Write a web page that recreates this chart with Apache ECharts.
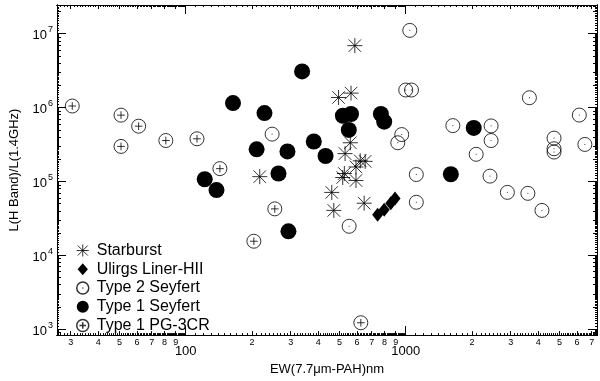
<!DOCTYPE html>
<html>
<head>
<meta charset="utf-8">
<script src="https://cdn.jsdelivr.net/npm/echarts@6/dist/echarts.min.js"></script>
<style>
  html, body { margin: 0; padding: 0; background: #fff; }
  #chart { width: 600px; height: 381px; }
</style>
</head>
<body>
<div id="chart"></div>
<script>
// EW(7.7um-PAH) values (nm) and L(H)/L(1.4GHz) ratios
const starX = [587, 495, 564, 560, 530, 621, 654, 594, 526, 517, 594, 461, 471, 647, 217];
const starY = [6.9e6, 1.37e6, 1.57e6, 3.34e5, 2.38e5, 1.9e5, 1.87e5, 1.57e5, 1.28e5, 1.13e5, 1.03e5, 7.1e4, 4.05e4, 5.07e4, 1.16e5];

const ulirgX = [745, 798, 855, 894];
const ulirgY = [3.53e4, 4.12e4, 5.07e4, 5.86e4];

const sy2X = [247, 1043, 1000, 1062, 3648, 6150, 1637, 2443, 2443, 959, 920, 4720, 4720, 4720, 6518, 2090, 1117, 2415, 2897, 3590, 4160, 1117, 553];
const sy2Y = [4.37e5, 1.11e7, 1.73e6, 1.73e6, 1.36e6, 7.92e5, 5.7e5, 5.65e5, 3.58e5, 4.31e5, 3.34e5, 3.86e5, 2.77e5, 2.5e5, 3.17e5, 2.33e5, 1.24e5, 1.18e5, 7.11e4, 6.9e4, 4.05e4, 5.22e4, 2.47e4];

const sy1X = [164, 228, 210, 290, 264, 122, 138, 338, 293, 518, 564, 551, 771, 798, 382, 432, 2037, 1603];
const sy1Y = [1.15e6, 8.43e5, 2.72e5, 2.55e5, 1.28e5, 1.07e5, 7.64e4, 3.09e6, 2.11e4, 7.76e5, 8.18e5, 4.99e5, 8.18e5, 6.44e5, 3.47e5, 2.21e5, 5.3e5, 1.25e5];

const pgX = [30.5, 50.8, 50.8, 61.1, 81.2, 112.5, 143, 254, 204, 625];
const pgY = [1.05e6, 7.9e5, 2.98e5, 5.6e5, 3.58e5, 3.78e5, 1.49e5, 4.25e4, 1.55e4, 1.22e3];

// axis ticks
const xDecades = [100, 1000];
const xDigits = [30, 40, 50, 60, 70, 80, 90, 200, 300, 400, 500, 600, 700, 800, 900, 2000, 3000, 4000, 5000, 6000, 7000];
const yDecades = [1e3, 1e4, 1e5, 1e6, 1e7];

const X_MIN = 26, X_MAX = 7400;
const Y_MIN = 830, Y_MAX = 2.45e7;

const lg = Math.log10;

function minorTicks(lo, hi) {
  const out = [];
  for (let d = Math.pow(10, Math.floor(lg(lo))); d < hi; d *= 10) {
    for (let k = 10; k < 100; k++) {
      const v = d * k / 10;
      if (v >= lo && v <= hi) out.push(lg(v));
    }
  }
  return out;
}
function midTicks(lo, hi) {
  const out = [];
  for (let d = Math.pow(10, Math.floor(lg(lo))); d < hi; d *= 10) {
    for (let k = 2; k < 10; k++) {
      const v = d * k;
      if (v >= lo && v <= hi) out.push(lg(v));
    }
  }
  return out;
}

const starPath = 'path://M0,0L20,20M0,20L20,0M10,-2L10,22M-2,10L22,10';
const diamondPath = 'path://M6,0L12,7L6,14L0,7Z';
const ringDotPath = 'path://M0,10A10,10 0 1,1 20,10A10,10 0 1,1 0,10ZM10,9.3L10,10.7';
const ringPlusPath = 'path://M0,10A10,10 0 1,1 20,10A10,10 0 1,1 0,10ZM10,4.5L10,15.5M4.5,10L15.5,10';

const toPts = (xs, ys) => xs.map((x, i) => [lg(x), lg(ys[i])]);

const font = 'Liberation Sans';
const lineStyle = { color: '#000', width: 1 };

function xAxisSet(position, labels) {
  const base = {
    type: 'value', min: lg(X_MIN), max: lg(X_MAX), position: position,
    splitLine: { show: false },
    axisLine: { show: true, onZero: false, lineStyle: lineStyle }
  };
  return [
    Object.assign({}, base, {
      axisTick: { show: true, inside: true, length: 9, customValues: xDecades.map(lg), lineStyle: lineStyle },
      axisLabel: labels ? {
        show: true, customValues: xDecades.map(lg), margin: 10, fontSize: 13, color: '#000', fontFamily: font,
        formatter: v => String(Math.round(Math.pow(10, v)))
      } : { show: false },
      name: labels ? 'EW(7.7\u03bcm-PAH)nm' : '',
      nameLocation: 'middle', nameGap: 25,
      nameTextStyle: { fontSize: 13, color: '#000', fontFamily: font }
    }),
    Object.assign({}, base, {
      axisTick: { show: true, inside: true, length: 4, customValues: xDigits.map(lg), lineStyle: lineStyle },
      axisLabel: labels ? {
        show: true, customValues: xDigits.map(lg), margin: 3, fontSize: 9, color: '#000', fontFamily: font,
        formatter: v => String(Math.round(Math.pow(10, v))).charAt(0)
      } : { show: false }
    }),
    Object.assign({}, base, {
      axisTick: { show: true, inside: true, length: 2, customValues: minorTicks(X_MIN, X_MAX), lineStyle: lineStyle },
      axisLabel: { show: false }
    })
  ];
}

function yAxisSet(position, labels) {
  const base = {
    type: 'value', min: lg(Y_MIN), max: lg(Y_MAX), position: position,
    splitLine: { show: false },
    axisLine: { show: true, onZero: false, lineStyle: lineStyle }
  };
  return [
    Object.assign({}, base, {
      axisTick: { show: true, inside: true, length: 9, customValues: yDecades.map(lg), lineStyle: lineStyle },
      axisLabel: labels ? {
        show: true, customValues: yDecades.map(lg), margin: 4, color: '#000', fontFamily: font,
        formatter: v => '{b|10}{s|' + Math.round(v) + '}',
        rich: {
          b: { fontSize: 13, fontFamily: font, color: '#000', verticalAlign: 'bottom' },
          s: { fontSize: 9, fontFamily: font, color: '#000', verticalAlign: 'bottom', padding: [0, 0, 8, 1] }
        }
      } : { show: false },
      name: labels ? 'L(H Band)/L(1.4GHz)' : '',
      nameLocation: 'middle', nameGap: 36,
      nameTextStyle: { fontSize: 13, color: '#000', fontFamily: font }
    }),
    Object.assign({}, base, {
      axisTick: { show: true, inside: true, length: 4, customValues: midTicks(Y_MIN, Y_MAX), lineStyle: lineStyle },
      axisLabel: { show: false }
    }),
    Object.assign({}, base, {
      axisTick: { show: true, inside: true, length: 2, customValues: minorTicks(Y_MIN, Y_MAX), lineStyle: lineStyle },
      axisLabel: { show: false }
    })
  ];
}

const openStyle = { color: 'rgba(0,0,0,0)', borderColor: '#000', borderWidth: 1 };

const chart = echarts.init(document.getElementById('chart'), null, { renderer: 'canvas' });
chart.setOption({
  animation: false,
  backgroundColor: '#fff',
  textStyle: { fontFamily: font },
  grid: { left: 55, right: 3, top: 5, bottom: 43 },
  xAxis: xAxisSet('bottom', true).concat(xAxisSet('top', false)),
  yAxis: yAxisSet('left', true).concat(yAxisSet('right', false)),
  legend: {
    orient: 'vertical', left: 71, top: 237.5,
    itemWidth: 12, itemHeight: 12, itemGap: 2.75,
    symbolKeepAspect: true,
    textStyle: { fontSize: 16, lineHeight: 16, color: '#000', fontFamily: font, padding: [0, 0, 0, 3] },
    data: [
      { name: 'Starburst', itemStyle: { color: 'rgba(0,0,0,0)', borderColor: '#000', borderWidth: 1 } },
      { name: 'Ulirgs Liner-HII', icon: diamondPath, itemStyle: { color: '#000', borderWidth: 0 } },
      { name: 'Type 2 Seyfert', itemStyle: { color: 'rgba(0,0,0,0)', borderColor: '#000', borderWidth: 1.5 } },
      { name: 'Type 1 Seyfert', itemStyle: { color: '#000', borderWidth: 0 } },
      { name: 'Type 1 PG-3CR', itemStyle: { color: 'rgba(0,0,0,0)', borderColor: '#000', borderWidth: 1.5 } }
    ]
  },
  series: [
    {
      name: 'Type 1 Seyfert', type: 'scatter', symbol: 'circle', symbolSize: 16,
      itemStyle: { color: '#000', opacity: 1 }, data: toPts(sy1X, sy1Y)
    },
    {
      name: 'Ulirgs Liner-HII', type: 'scatter', symbol: 'diamond', symbolSize: [11, 14],
      itemStyle: { color: '#000', opacity: 1 }, data: toPts(ulirgX, ulirgY)
    },
    {
      name: 'Starburst', type: 'scatter', symbol: starPath, symbolSize: 15,
      itemStyle: openStyle, data: toPts(starX, starY)
    },
    {
      name: 'Type 2 Seyfert', type: 'scatter', symbol: ringDotPath, symbolSize: 14,
      itemStyle: openStyle, data: toPts(sy2X, sy2Y)
    },
    {
      name: 'Type 1 PG-3CR', type: 'scatter', symbol: ringPlusPath, symbolSize: 14,
      itemStyle: openStyle, data: toPts(pgX, pgY)
    }
  ]
});
</script>
</body>
</html>
